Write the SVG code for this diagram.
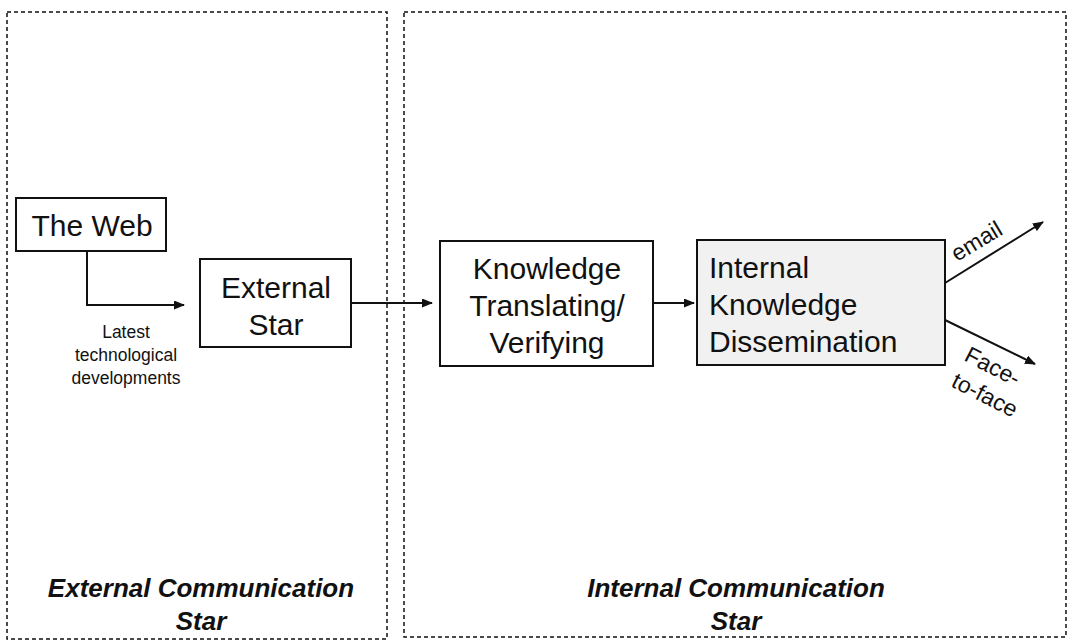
<svg xmlns="http://www.w3.org/2000/svg" width="1069" height="643" viewBox="0 0 1069 643">
<defs>
<style>
.frame{fill:none;stroke:#111;stroke-width:1.5;stroke-dasharray:4,3}
.box{fill:#fff;stroke:#111;stroke-width:2}
.t{font-family:"Liberation Sans",Arial,sans-serif;font-size:30px;fill:#111}
.s{font-family:"Liberation Sans",Arial,sans-serif;font-size:17.5px;fill:#111;text-anchor:middle}
.e{font-family:"Liberation Sans",Arial,sans-serif;font-size:23px;fill:#111}
.lab{font-family:"Liberation Sans",Arial,sans-serif;font-size:26px;fill:#111;font-weight:bold;font-style:italic;text-anchor:middle}
.c{fill:none;stroke:#111;stroke-width:2}
</style>
<marker id="ah" markerWidth="11" markerHeight="9" refX="10" refY="4.5" orient="auto" markerUnits="userSpaceOnUse">
<path d="M0,0 L11,4.5 L0,9 Z" fill="#111"/>
</marker>
</defs>
<rect width="1069" height="643" fill="#fff"/>
<g id="frames">
<rect class="frame" x="7" y="12" width="380" height="627"/>
<rect class="frame" x="404" y="12" width="662" height="625"/>
<text class="lab" x="201" y="597">External Communication</text>
<text class="lab" x="201" y="630">Star</text>
<text class="lab" x="736" y="597">Internal Communication</text>
<text class="lab" x="736" y="630">Star</text>
</g>
<g id="connectors">
<path class="c" d="M87,251 V305 H184" marker-end="url(#ah)"/>
<path class="c" d="M351,303 H432" marker-end="url(#ah)"/>
<path class="c" d="M653,303 H694" marker-end="url(#ah)"/>
<path class="c" d="M945,283 L1043,222" marker-end="url(#ah)"/>
<path class="c" d="M945,320 L1035,364" marker-end="url(#ah)"/>
<text class="s" x="126" y="338">Latest</text>
<text class="s" x="126" y="361">technological</text>
<text class="s" x="126" y="384">developments</text>
<text class="e" transform="translate(957,262) rotate(-31)">email</text>
<text class="e" transform="translate(963,360) rotate(27)">Face-</text>
<text class="e" transform="translate(950,386) rotate(27)">to-face</text>
</g>
<g id="the-web">
<rect class="box" x="16" y="198" width="150" height="53"/>
<text class="t" x="92" y="236" text-anchor="middle">The Web</text>
</g>
<g id="external-star">
<rect class="box" x="200" y="259" width="151" height="88"/>
<text class="t" x="276" y="298" text-anchor="middle">External</text>
<text class="t" x="276" y="335" text-anchor="middle">Star</text>
</g>
<g id="knowledge-translating">
<rect class="box" x="440" y="241" width="213" height="125"/>
<text class="t" x="547" y="279" text-anchor="middle">Knowledge</text>
<text class="t" x="547" y="316" text-anchor="middle">Translating/</text>
<text class="t" x="547" y="353" text-anchor="middle">Verifying</text>
</g>
<g id="internal-dissemination">
<rect class="box" x="697" y="240" width="248" height="125" style="fill:#f1f1f1"/>
<text class="t" x="709" y="278">Internal</text>
<text class="t" x="709" y="315">Knowledge</text>
<text class="t" x="709" y="352">Dissemination</text>
</g>
</svg>
